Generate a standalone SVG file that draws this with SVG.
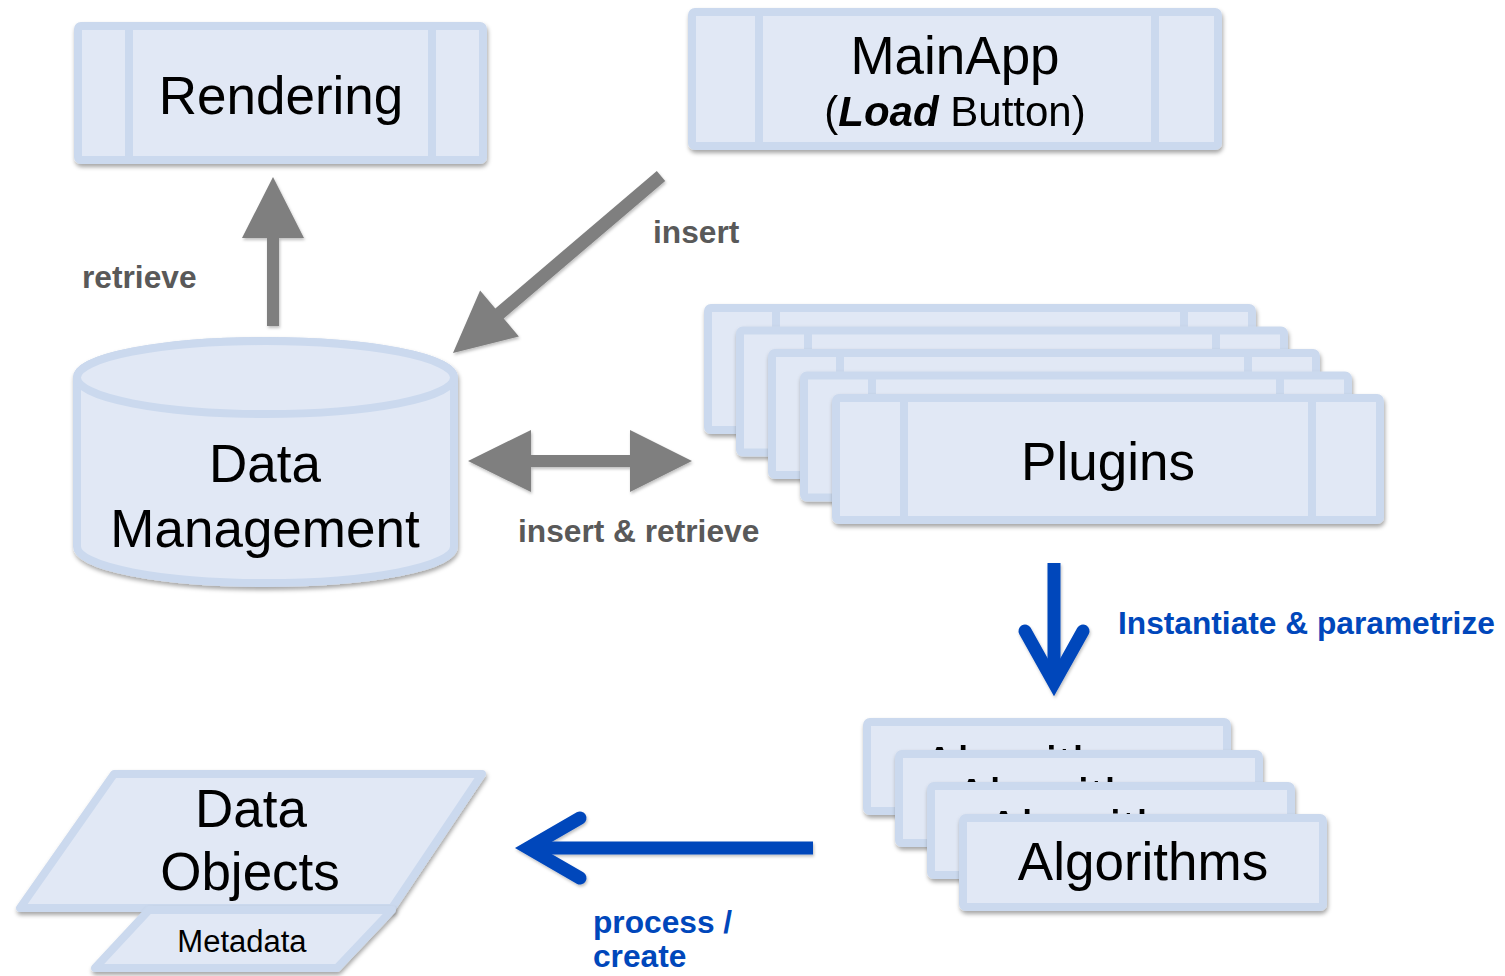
<svg xmlns="http://www.w3.org/2000/svg" width="1505" height="976" viewBox="0 0 1505 976">
<defs>
  <filter id="sh" x="-10%" y="-10%" width="120%" height="130%">
    <feDropShadow dx="1" dy="3" stdDeviation="2" flood-color="#000" flood-opacity="0.35"/>
  </filter>
  <filter id="sh2" x="-10%" y="-10%" width="120%" height="130%">
    <feDropShadow dx="1" dy="2" stdDeviation="1.5" flood-color="#000" flood-opacity="0.25"/>
  </filter>
</defs>
<style>
  .box{fill:#e1e8f5;stroke:#cbd9ee;stroke-width:8;stroke-linejoin:round}
  .div{stroke:#cbd9ee;stroke-width:8}
  .t{font-family:"Liberation Sans",Arial,sans-serif;fill:#000;text-anchor:middle}
  .big{font-size:53px}
  .lbl{font-family:"Liberation Sans",Arial,sans-serif;font-weight:bold;font-size:31.7px}
  .gray{fill:#595959}
  .blue{fill:#0047bb}
  .garrow{fill:#7f7f7f}
  .barrow{fill:none;stroke:#0047bb;stroke-width:13}
</style>

<g id="connectors">
  <g filter="url(#sh2)">
    <polygon class="garrow" points="267,326 279,326 279,238 304,238 273,177 242,238 267,238"/>
    <polygon class="garrow" points="656.8,171 665.2,181 503.7,318.5 518.9,336.4 453,353 480.1,290.6 495.3,308.5"/>
    <polygon class="garrow" points="468,461 531,430 531,455 630,455 630,430 692,461 630,492 630,467 531,467 531,492"/>
    <path class="barrow" d="M1054,563 L1054,684"/>
    <path class="barrow" d="M1025,631 L1054,683 L1083,631" stroke-linecap="round" stroke-linejoin="miter"/>
    <path class="barrow" d="M813,848 L530,848"/>
    <path class="barrow" d="M580,818 L528,848 L580,878" stroke-linecap="round" stroke-linejoin="miter"/>
  </g>
  <text class="lbl gray" x="82" y="288">retrieve</text>
  <text class="lbl gray" x="653" y="243">insert</text>
  <text class="lbl gray" x="518" y="542">insert &amp; retrieve</text>
  <text class="lbl blue" x="1118" y="634" font-size="32">Instantiate &amp; parametrize</text>
  <text class="lbl blue" x="593" y="933">process /</text>
  <text class="lbl blue" x="593" y="967">create</text>
</g>

<g id="rendering" filter="url(#sh)">
  <rect class="box" x="78" y="26" width="405" height="134" rx="3"/>
  <line class="div" x1="129" y1="26" x2="129" y2="160"/>
  <line class="div" x1="432" y1="26" x2="432" y2="160"/>
  <text class="t big" x="281" y="114">Rendering</text>
</g>

<g id="mainapp" filter="url(#sh)">
  <rect class="box" x="692" y="12" width="526" height="134" rx="3"/>
  <line class="div" x1="759" y1="12" x2="759" y2="146"/>
  <line class="div" x1="1155" y1="12" x2="1155" y2="146"/>
  <text class="t big" x="955" y="74">MainApp</text>
  <text class="t" x="955" y="126" font-size="42">(<tspan font-weight="bold" font-style="italic">Load</tspan> Button)</text>
</g>

<g id="data-management" filter="url(#sh)">
  <path class="box" d="M77,377.5 L77,546.5 A188.5,36.5 0 0 0 454,546.5 L454,377.5 A188.5,36.5 0 0 0 77,377.5 Z"/>
  <ellipse class="box" cx="265.5" cy="377.5" rx="188.5" ry="36.5"/>
  <text class="t big" x="265" y="482">Data</text>
  <text class="t big" x="265" y="547">Management</text>
</g>

<g id="plugins">
  <g filter="url(#sh)">
    <rect class="box" x="708" y="308" width="544" height="122" rx="3"/>
    <line class="div" x1="776" y1="308" x2="776" y2="430"/>
    <line class="div" x1="1184" y1="308" x2="1184" y2="430"/>
  </g>
  <g filter="url(#sh)">
    <rect class="box" x="740" y="330.5" width="544" height="122" rx="3"/>
    <line class="div" x1="808" y1="330.5" x2="808" y2="452.5"/>
    <line class="div" x1="1216" y1="330.5" x2="1216" y2="452.5"/>
  </g>
  <g filter="url(#sh)">
    <rect class="box" x="772" y="353" width="544" height="122" rx="3"/>
    <line class="div" x1="840" y1="353" x2="840" y2="475"/>
    <line class="div" x1="1248" y1="353" x2="1248" y2="475"/>
  </g>
  <g filter="url(#sh)">
    <rect class="box" x="804" y="375.5" width="544" height="122" rx="3"/>
    <line class="div" x1="872" y1="375.5" x2="872" y2="497.5"/>
    <line class="div" x1="1280" y1="375.5" x2="1280" y2="497.5"/>
  </g>
  <g filter="url(#sh)">
    <rect class="box" x="836" y="398" width="544" height="122" rx="3"/>
    <line class="div" x1="904" y1="398" x2="904" y2="520"/>
    <line class="div" x1="1312" y1="398" x2="1312" y2="520"/>
    <text class="t big" x="1108" y="480">Plugins</text>
  </g>
</g>

<g id="algorithms">
  <g filter="url(#sh)">
    <rect class="box" x="867" y="722" width="360" height="89" rx="3"/>
    <text class="t big" x="1047" y="784">Algorithms</text>
  </g>
  <g filter="url(#sh)">
    <rect class="box" x="899" y="754" width="360" height="89" rx="3"/>
    <text class="t big" x="1079" y="816">Algorithms</text>
  </g>
  <g filter="url(#sh)">
    <rect class="box" x="931" y="786" width="360" height="89" rx="3"/>
    <text class="t big" x="1111" y="848">Algorithms</text>
  </g>
  <g filter="url(#sh)">
    <rect class="box" x="963" y="818" width="360" height="89" rx="3"/>
    <text class="t big" x="1143" y="880">Algorithms</text>
  </g>
</g>

<g id="data-objects">
  <g filter="url(#sh)">
    <polygon class="box" points="114,774 482,774 392,908 20,908"/>
  </g>
  <text class="t big" x="251" y="827">Data</text>
  <text class="t big" x="250" y="890">Objects</text>
  <g id="metadata">
    <g filter="url(#sh)">
      <polygon class="box" points="149,910 392,910 337,968 95,968"/>
    </g>
    <text class="t" x="242" y="952" font-size="31">Metadata</text>
  </g>
</g>
</svg>
